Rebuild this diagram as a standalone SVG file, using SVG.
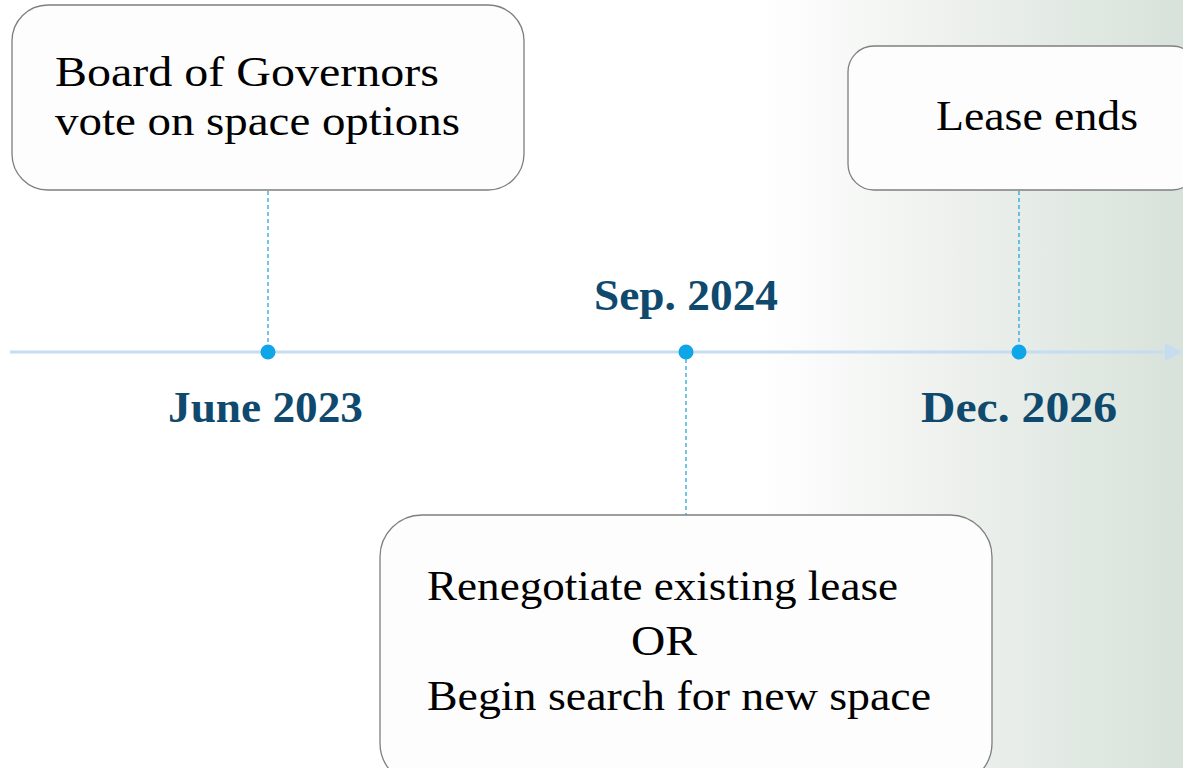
<svg xmlns="http://www.w3.org/2000/svg" width="1183" height="768" viewBox="0 0 1183 768">
  <defs>
    <linearGradient id="bg" x1="0" y1="0" x2="1" y2="0">
      <stop offset="0" stop-color="#ffffff"/>
      <stop offset="0.64" stop-color="#ffffff"/>
      <stop offset="0.8" stop-color="#eef1ee"/>
      <stop offset="1" stop-color="#d7e2da"/>
    </linearGradient>
    <style>
      .box { fill: #fdfdfd; stroke: #7f7f7f; stroke-width: 1.3; }
      .body { font-family: "Liberation Serif", "DejaVu Serif", serif; font-size: 43px; fill: #000; }
      .date { font-family: "Liberation Serif", "DejaVu Serif", serif; font-size: 45px; font-weight: bold; fill: #0f4a6e; }
      .lead { stroke: #1a9fdc; stroke-width: 1.2; stroke-dasharray: 4 3; fill: none; }
      .dot { fill: #0ea6e8; }
      .axis { stroke: #c6dcf0; stroke-width: 3; fill: none; }
      .head { fill: #c6dcf0; }
    </style>
  </defs>

  <!-- backdrop -->
  <rect x="0" y="0" width="1183" height="768" fill="url(#bg)"/>

  <!-- timeline axis and leader lines -->
  <g id="connectors">
    <line class="axis" x1="10" y1="352" x2="1168" y2="352"/>
    <polygon class="head" points="1165,343 1183,352 1165,361"/>
    <line class="lead" x1="268" y1="191" x2="268" y2="352"/>
    <line class="lead" x1="686" y1="352" x2="686" y2="515"/>
    <line class="lead" x1="1019" y1="191" x2="1019" y2="352"/>
    <circle class="dot" cx="268" cy="352" r="7.5"/>
    <circle class="dot" cx="686" cy="352" r="7.5"/>
    <circle class="dot" cx="1019" cy="352" r="7.5"/>
  </g>

  <g id="vote">
    <rect class="box" x="12" y="5" width="512" height="185" rx="36"/>
    <text class="body" x="55" y="86" textLength="384" lengthAdjust="spacingAndGlyphs">Board of Governors</text>
    <text class="body" x="55" y="135" textLength="405" lengthAdjust="spacingAndGlyphs">vote on space options</text>
  </g>

  <g id="lease-ends">
    <rect class="box" x="848" y="46" width="350" height="144" rx="26"/>
    <text class="body" x="936" y="130" textLength="202" lengthAdjust="spacingAndGlyphs">Lease ends</text>
  </g>

  <g id="renegotiate">
    <rect class="box" x="380" y="515" width="612" height="270" rx="42"/>
    <text class="body" x="427" y="600" textLength="471" lengthAdjust="spacingAndGlyphs">Renegotiate existing lease</text>
    <text class="body" x="631" y="655" textLength="66" lengthAdjust="spacingAndGlyphs">OR</text>
    <text class="body" x="427" y="710" textLength="504" lengthAdjust="spacingAndGlyphs">Begin search for new space</text>
  </g>

  <g id="date-2023">
    <text class="date" x="168" y="422" textLength="195" lengthAdjust="spacingAndGlyphs">June 2023</text>
  </g>
  <g id="date-2024">
    <text class="date" x="594" y="310" textLength="184" lengthAdjust="spacingAndGlyphs">Sep. 2024</text>
  </g>
  <g id="date-2026">
    <text class="date" x="921" y="422" textLength="196" lengthAdjust="spacingAndGlyphs">Dec. 2026</text>
  </g>
</svg>
